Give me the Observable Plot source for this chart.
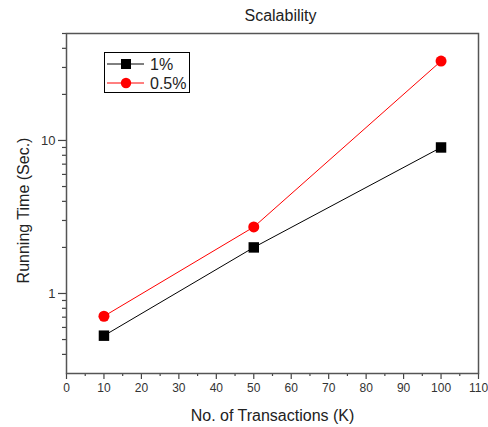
<!DOCTYPE html>
<html>
<head>
<meta charset="utf-8">
<script src="https://cdn.jsdelivr.net/npm/d3@7"></script>
<script src="https://cdn.jsdelivr.net/npm/@observablehq/plot@0.6"></script>
<style>
  html, body { margin: 0; padding: 0; background: white; }
</style>
</head>
<body>
<div id="chart"></div>
<script>
const transactions = [10, 50, 100];
const seriesNames = ["1%", "0.5%"];
const runningTime1 = [0.53, 2.0, 9.0];
const runningTime05 = [0.71, 2.72, 33];
const xMajorTicks = [0, 10, 20, 30, 40, 50, 60, 70, 80, 90, 100, 110];
const xMinorTicks = [5, 15, 25, 35, 45, 55, 65, 75, 85, 95, 105];
const yMajorTicks = [1, 10];
const yMinorTicks = [0.4, 0.5, 0.6, 0.7, 0.8, 0.9, 2, 3, 4, 5, 6, 7, 8, 9, 20, 30, 40, 50];
const title = "Scalability";
const xLabel = "No. of Transactions (K)";
const yLabel = "Running Time (Sec.)";
const colors = {"1%": "#000000", "0.5%": "#ff0000"};

const data = [];
transactions.forEach((t, i) => {
  data.push({x: t, y: runningTime1[i], s: seriesNames[0]});
  data.push({x: t, y: runningTime05[i], s: seriesNames[1]});
});
const d1 = data.filter(d => d.s === seriesNames[0]);
const d2 = data.filter(d => d.s === seriesNames[1]);

const font = "'Liberation Sans', Arial, sans-serif";

const chart = Plot.plot({
  width: 488,
  height: 427,
  marginLeft: 66,
  marginRight: 10,
  marginTop: 33,
  marginBottom: 54,
  style: {fontFamily: font, background: "white", color: "#333"},
  x: {domain: [0, 110]},
  y: {type: "log", domain: [0.3, 50]},
  marks: [
    Plot.axisX({ticks: xMajorTicks, tickSize: 6, tickPadding: 4, fontSize: 12, label: null, stroke: "#444", strokeWidth: 1.2, tickFormat: d => d}),
    Plot.axisX({ticks: xMinorTicks, tickSize: 3, label: null, stroke: "#444", strokeWidth: 1.2, tickFormat: () => ""}),
    Plot.axisY({ticks: yMajorTicks, tickSize: 8, tickPadding: 3, fontSize: 13, label: null, stroke: "#444", strokeWidth: 1.2, tickFormat: d => d}),
    Plot.axisY({ticks: yMinorTicks, tickSize: 4, label: null, stroke: "#444", strokeWidth: 1.2, tickFormat: () => ""}),
    Plot.frame({stroke: "#555", strokeWidth: 1.5}),
    Plot.text([title], {frameAnchor: "top", lineAnchor: "middle", textAnchor: "middle", dy: -18, dx: 8, fontSize: 16, fill: "#222"}),
    Plot.text([xLabel], {frameAnchor: "bottom", lineAnchor: "middle", textAnchor: "middle", dy: 42, fontSize: 16, fill: "#222"}),
    Plot.text([yLabel], {frameAnchor: "left", lineAnchor: "middle", textAnchor: "middle", rotate: -90, dx: -43, dy: 7, fontSize: 16, fill: "#222"}),
    Plot.line(d1, {x: "x", y: "y", stroke: colors["1%"], strokeWidth: 1}),
    Plot.line(d2, {x: "x", y: "y", stroke: colors["0.5%"], strokeWidth: 1}),
    Plot.dot(d1, {x: "x", y: "y", symbol: "square", r: 5.9, fill: colors["1%"], stroke: "none"}),
    Plot.dot(d2, {x: "x", y: "y", symbol: "circle", r: 5.5, fill: colors["0.5%"], stroke: "none"})
  ]
});

// legend inside the plot
const svg = d3.select(chart);
const lg = svg.append("g").attr("font-family", font).attr("text-anchor", "start");
lg.append("rect").attr("x", 104.5).attr("y", 52.5).attr("width", 85).attr("height", 40)
  .attr("fill", "white").attr("stroke", "#000").attr("stroke-width", 1);
const rows = [
  {name: seriesNames[0], y: 64, symbol: d3.symbolSquare, size: 100},
  {name: seriesNames[1], y: 83, symbol: d3.symbolCircle, size: 85}
];
rows.forEach(r => {
  const g = lg.append("g");
  g.append("line").attr("x1", 107).attr("x2", 144).attr("y1", r.y).attr("y2", r.y)
    .attr("stroke", colors[r.name]).attr("stroke-width", 1);
  g.append("path").attr("d", d3.symbol(r.symbol, r.size)()).attr("transform", `translate(126,${r.y})`)
    .attr("fill", colors[r.name]);
  g.append("text").attr("x", 150).attr("y", r.y).attr("dy", "0.35em").attr("font-size", 16)
    .attr("text-anchor", "start").attr("fill", "#222").text(r.name);
});

document.getElementById("chart").appendChild(chart);
</script>
</body>
</html>
